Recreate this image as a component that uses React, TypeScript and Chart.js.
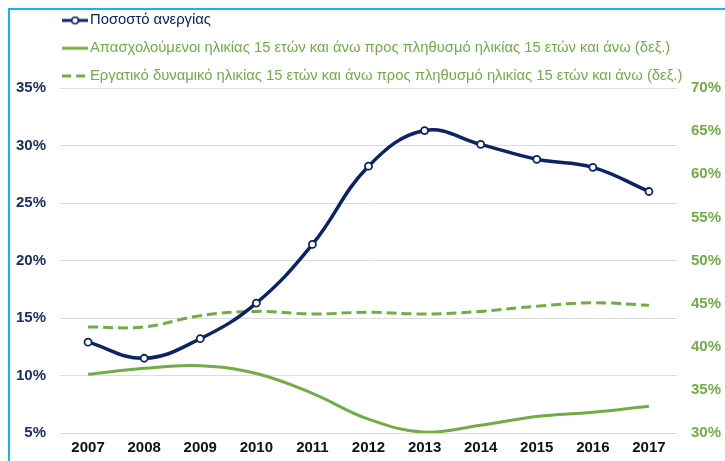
import React, { useEffect, useRef } from "react";
import { Chart, registerables } from "chart.js";

Chart.register(...registerables);

const years = ["2007", "2008", "2009", "2010", "2011", "2012", "2013", "2014", "2015", "2016", "2017"];
const unemployment = [12.9, 11.5, 13.2, 16.3, 21.4, 28.2, 31.3, 30.1, 28.8, 28.1, 26.0];
const employedRatio = [36.8, 37.5, 37.8, 36.9, 34.6, 31.6, 30.1, 30.9, 31.9, 32.4, 33.1];
const labourForceRatio = [42.3, 42.3, 43.6, 44.1, 43.8, 44.0, 43.8, 44.1, 44.7, 45.1, 44.8];
const seriesNames = [
  "Ποσοστό ανεργίας",
  "Απασχολούμενοι ηλικίας 15 ετών και άνω προς πληθυσμό ηλικίας 15 ετών και άνω (δεξ.)",
  "Εργατικό δυναμικό ηλικίας 15 ετών και άνω προς πληθυσμό ηλικίας 15 ετών και άνω (δεξ.)",
];

const NAVY = "#0b2466";
const GREEN = "#70ad47";
const FONT = "'Liberation Sans', Arial, sans-serif";

function makeIcon(kind: number): HTMLCanvasElement {
  const c = document.createElement("canvas");
  c.width = 26;
  c.height = 10;
  const ctx = c.getContext("2d")!;
  ctx.lineCap = "butt";
  if (kind === 0) {
    ctx.strokeStyle = NAVY;
    ctx.lineWidth = 3;
    ctx.beginPath();
    ctx.moveTo(0, 5);
    ctx.lineTo(26, 5);
    ctx.stroke();
    ctx.beginPath();
    ctx.arc(13, 5, 3.3, 0, Math.PI * 2);
    ctx.fillStyle = "#fff";
    ctx.fill();
    ctx.lineWidth = 1.6;
    ctx.stroke();
  } else if (kind === 1) {
    ctx.strokeStyle = GREEN;
    ctx.lineWidth = 3;
    ctx.beginPath();
    ctx.moveTo(0, 5);
    ctx.lineTo(26, 5);
    ctx.stroke();
  } else {
    ctx.strokeStyle = GREEN;
    ctx.lineWidth = 3;
    ctx.setLineDash([9, 5]);
    ctx.beginPath();
    ctx.moveTo(0, 5);
    ctx.lineTo(26, 5);
    ctx.stroke();
  }
  return c;
}

export default function App() {
  const ref = useRef<HTMLCanvasElement | null>(null);

  useEffect(() => {
    if (!ref.current) return;
    const icons = [makeIcon(0), makeIcon(1), makeIcon(2)];
    const legendColors = [NAVY, GREEN, GREEN];

    const shiftLegend = {
      id: "shiftLegend",
      afterLayout(chart: any) {
        if (chart.legend) {
          chart.legend.left = 54.6;
        }
      },
    };

    const chart = new Chart(ref.current, {
      type: "line",
      data: {
        labels: years,
        datasets: [
          {
            label: seriesNames[0],
            data: unemployment,
            yAxisID: "y",
            borderColor: NAVY,
            backgroundColor: "#ffffff",
            borderWidth: 3.5,
            pointRadius: 3.5,
            pointBorderWidth: 1.8,
            pointBackgroundColor: "#ffffff",
            pointBorderColor: NAVY,
            tension: 0.4,
          },
          {
            label: seriesNames[1],
            data: employedRatio,
            yAxisID: "y1",
            borderColor: GREEN,
            borderWidth: 3,
            pointRadius: 0,
            tension: 0.4,
          },
          {
            label: seriesNames[2],
            data: labourForceRatio,
            yAxisID: "y1",
            borderColor: GREEN,
            borderWidth: 3,
            borderDash: [10, 5],
            pointRadius: 0,
            tension: 0.4,
          },
        ],
      },
      options: {
        responsive: false,
        animation: false,
        devicePixelRatio: 1,
        layout: { padding: 0 },
        plugins: {
          tooltip: { enabled: false },
          legend: {
            position: "top",
            align: "start",
            maxHeight: 88,
            labels: {
              usePointStyle: true,
              pointStyleWidth: 15,
              padding: 13,
              font: { family: FONT, size: 14.8 },
              generateLabels: () =>
                seriesNames.map((name, i) => ({
                  text: name,
                  fontColor: legendColors[i],
                  pointStyle: icons[i],
                  datasetIndex: i,
                  hidden: false,
                  lineWidth: 0,
                  strokeStyle: "transparent",
                  fillStyle: "transparent",
                })) as any,
            },
          },
        },
        scales: {
          x: {
            type: "category",
            offset: true,
            grid: { display: false, drawTicks: false },
            border: { display: false },
            ticks: {
              color: "#111111",
              padding: 6,
              font: { family: FONT, size: 15, weight: "bold" },
              maxRotation: 0,
              autoSkip: false,
            },
            afterFit: (s: any) => {
              s.height = 28;
            },
          },
          y: {
            position: "left",
            min: 5,
            max: 35,
            grid: { color: "#dcdcdc", lineWidth: 1, drawTicks: false },
            border: { display: false },
            ticks: {
              stepSize: 5,
              padding: 14,
              color: "#1b2f66",
              font: { family: FONT, size: 15, weight: "bold" },
              callback: (v: any) => v + "%",
            },
            afterFit: (s: any) => {
              s.width = 60;
            },
          },
          y1: {
            position: "right",
            min: 30,
            max: 70,
            grid: { display: false, drawTicks: false },
            border: { display: false },
            ticks: {
              stepSize: 5,
              padding: 14,
              color: GREEN,
              font: { family: FONT, size: 15, weight: "bold" },
              callback: (v: any) => v + "%",
            },
            afterFit: (s: any) => {
              s.width = 48;
            },
          },
        },
      },
      plugins: [shiftLegend],
    });
    return () => chart.destroy();
  }, []);

  return (
    <div
      style={{
        position: "absolute",
        left: 0,
        top: 0,
        width: 725,
        height: 461,
        overflow: "hidden",
        background: "#fff",
      }}
    >
      <div
        style={{
          position: "absolute",
          left: 8,
          top: 8,
          width: 800,
          height: 600,
          borderTop: "2px solid #16b3ee",
          borderLeft: "2px solid #16b3ee",
        }}
      />
      <canvas
        ref={ref}
        width={725}
        height={461}
        style={{ position: "absolute", left: 0, top: 0, width: 725, height: 461 }}
      />
    </div>
  );
}
